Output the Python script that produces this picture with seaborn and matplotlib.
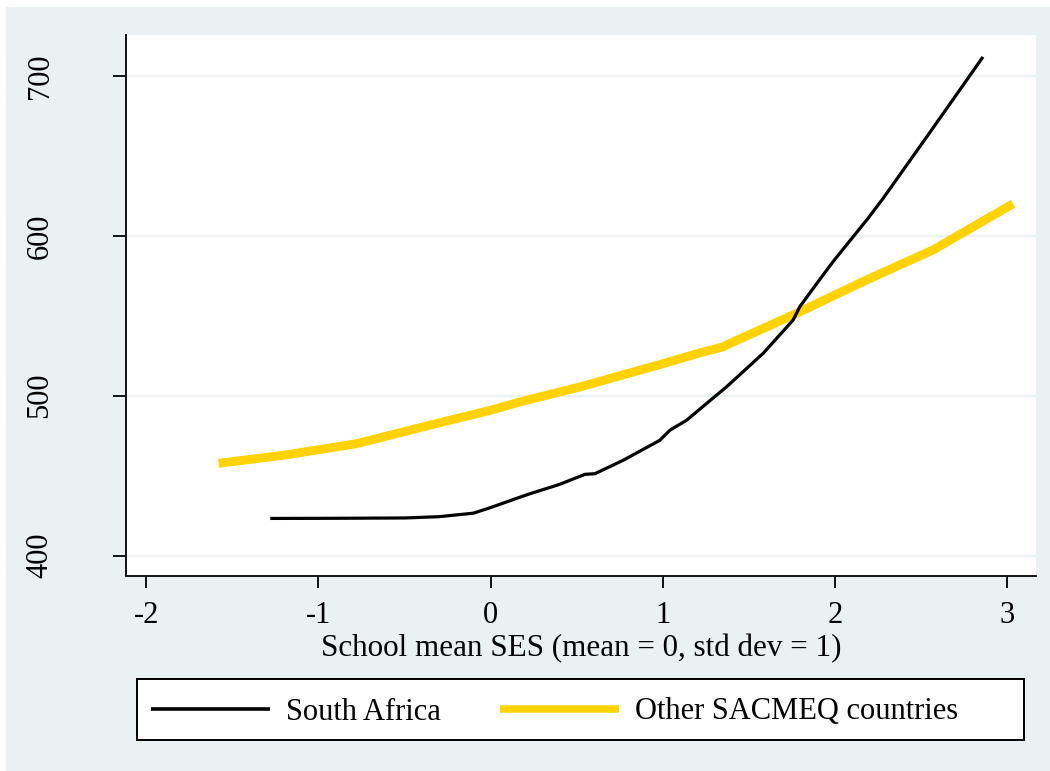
import matplotlib
matplotlib.use("Agg")
import matplotlib.pyplot as plt
from matplotlib.patches import Rectangle
from matplotlib.lines import Line2D
import seaborn as sns
import pandas as pd

# School mean SES (standardised) and predicted scores, South Africa
sa_ses = [-1.28, -0.90, -0.50, -0.30, -0.10, 0.00, 0.17, 0.23, 0.40, 0.548,
          0.606, 0.77, 0.983, 1.041, 1.138, 1.274, 1.37, 1.583, 1.757, 1.796,
          1.90, 1.99, 2.193, 2.28, 2.55, 2.86]
sa_score = [423.2, 423.3, 423.5, 424.3, 426.5, 430.0, 436.5, 438.7, 444.5, 450.8,
            451.2, 459.6, 472.1, 478.4, 484.6, 496.9, 505.5, 526.5, 547.3, 555.7,
            571.0, 584.0, 611.1, 623.5, 664.5, 712.0]

# Other SACMEQ countries
oth_ses = [-1.58, -1.204, -0.778, -0.333, 0.00, 0.17, 0.519, 1.0, 1.215, 1.351,
           1.37, 1.777, 2.183, 2.57, 3.035]
oth_score = [457.7, 462.7, 470.0, 482.1, 490.9, 496.1, 505.5, 520.0, 526.8, 530.6,
             531.7, 551.5, 572.4, 591.2, 620.1]

x_ticks = [-2, -1, 0, 1, 2, 3]
y_ticks = [400, 500, 600, 700]
series_names = ["South Africa", "Other SACMEQ countries"]

BG = "#EAF1F3"
GOLD = "#FFD200"

sns.set_theme(style="white")
plt.rcParams["font.family"] = ["Liberation Serif", "DejaVu Serif"]
plt.rcParams["text.color"] = "black"
plt.rcParams["xtick.color"] = "black"
plt.rcParams["ytick.color"] = "black"
plt.rcParams["axes.labelcolor"] = "black"

W, H = 1050, 771
fig = plt.figure(figsize=(W / 100, H / 100), dpi=100, facecolor="white")

# light background panel
fig.patches.append(Rectangle((6 / W, 0), 1 - 6 / W, 1 - 7 / H, transform=fig.transFigure,
                             facecolor=BG, edgecolor="none", zorder=-10))

ax = fig.add_axes([126 / W, 1 - 575.5 / H, 910 / W, 540.5 / H])
ax.set_facecolor("white")

df = pd.concat([
    pd.DataFrame({"ses": sa_ses, "score": sa_score, "group": series_names[0]}),
    pd.DataFrame({"ses": oth_ses, "score": oth_score, "group": series_names[1]}),
])

sns.lineplot(data=df[df.group == series_names[1]], x="ses", y="score", ax=ax,
             color=GOLD, linewidth=6.4, sort=False, legend=False,
             solid_capstyle="butt", zorder=3)
sns.lineplot(data=df[df.group == series_names[0]], x="ses", y="score", ax=ax,
             color="black", linewidth=2.3, sort=False, legend=False,
             solid_capstyle="butt", zorder=4)

ax.set_xlim(-2.118, 3.168)
ax.set_ylim(387.5, 725.7)
ax.set_xticks(x_ticks)
ax.set_yticks(y_ticks)
ax.set_xticklabels([str(v) for v in x_ticks])
ax.set_yticklabels([str(v) for v in y_ticks], rotation=90, va="center")

for v in y_ticks:
    ax.axhline(v, color=BG, linewidth=1.6, zorder=1)

for side in ["top", "right"]:
    ax.spines[side].set_visible(False)
for side in ["left", "bottom"]:
    ax.spines[side].set_color("black")
    ax.spines[side].set_linewidth(1.3)

ax.tick_params(axis="x", direction="out", length=8.5, width=1.3, color="black",
               labelsize=22, pad=10, bottom=True)
ax.tick_params(axis="y", direction="out", length=9.4, width=1.3, color="black",
               labelsize=22, pad=42, left=True)

ax.set_xlabel("School mean SES (mean = 0, std dev = 1)", fontsize=22.4, labelpad=2.5)
ax.set_ylabel("")

# legend frame
fig.patches.append(Rectangle((137 / W, 1 - 739.5 / H), 887 / W, 60.5 / H,
                             transform=fig.transFigure, facecolor="white",
                             edgecolor="black", linewidth=1.4, zorder=-5))

handles = [Line2D([], [], color="black", linewidth=2.6, solid_capstyle="butt"),
           Line2D([], [], color=GOLD, linewidth=5.4, solid_capstyle="butt")]
fig.legend(handles, series_names, loc="center left",
           bbox_to_anchor=(151 / W, 1 - 712 / H), ncol=2, frameon=False,
           fontsize=22, handlelength=3.9, handletextpad=0.52,
           columnspacing=1.93, borderpad=0, borderaxespad=0)

fig.savefig("out.png", dpi=100, facecolor="white")
